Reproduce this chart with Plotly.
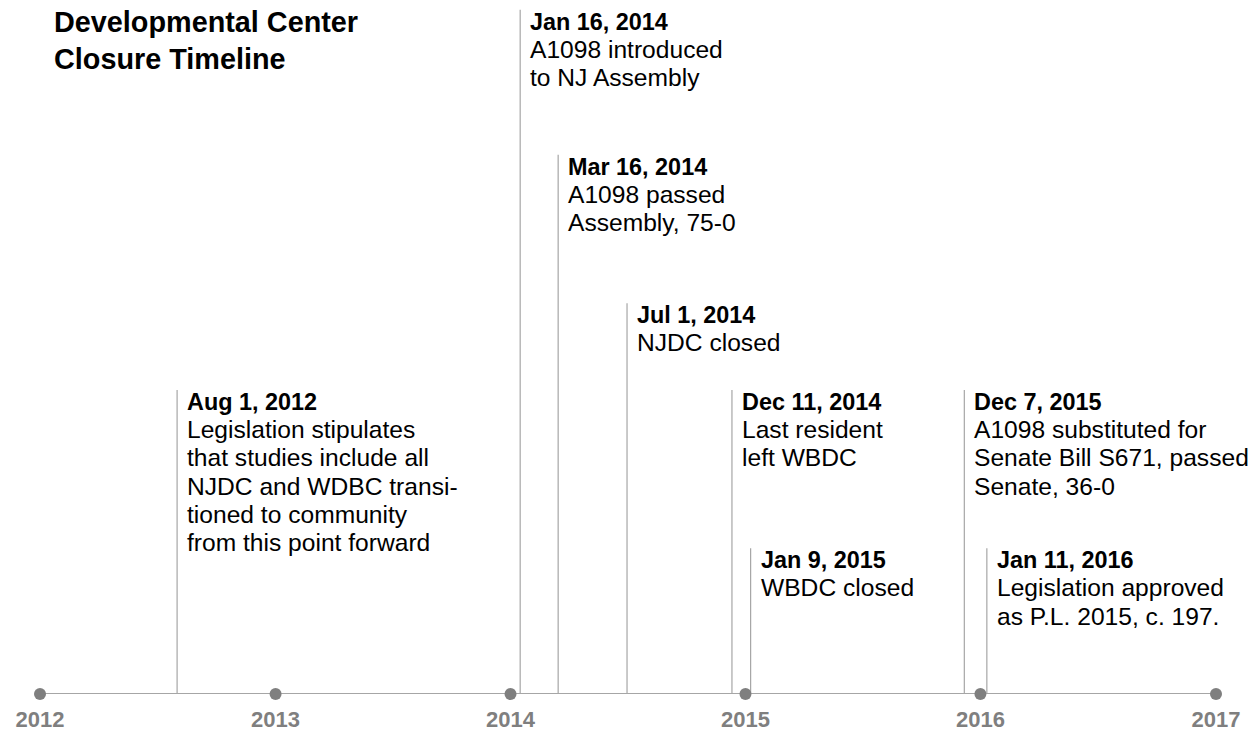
import plotly.graph_objects as go

# ---- data ----
years = ["2012", "2013", "2014", "2015", "2016", "2017"]
event_dates = ["2012-08-01", "2014-01-16", "2014-03-16", "2014-07-01",
               "2014-12-11", "2015-01-09", "2015-12-07", "2016-01-11"]
event_titles = ["Aug 1, 2012", "Jan 16, 2014", "Mar 16, 2014", "Jul 1, 2014",
                "Dec 11, 2014", "Jan 9, 2015", "Dec 7, 2015", "Jan 11, 2016"]
event_texts = [
    ["Legislation stipulates", "that studies include all", "NJDC and WDBC transi-",
     "tioned to community", "from this point forward"],
    ["A1098 introduced", "to NJ Assembly"],
    ["A1098 passed", "Assembly, 75-0"],
    ["NJDC closed"],
    ["Last resident", "left WBDC"],
    ["WBDC closed"],
    ["A1098 substituted for", "Senate Bill S671, passed", "Senate, 36-0"],
    ["Legislation approved", "as P.L. 2015, c. 197."],
]
event_levels = [43.8, 98.6, 77.7, 56.3, 43.8, 21.0, 43.8, 21.0]
title_lines = ["Developmental Center", "Closure Timeline"]

FONT = "Liberation Sans"
GRAY = "#7f7f7f"
LIGHT = "#a6a6a6"
DATE_SIZE = 23.4
TXT_SIZE = 24.6
LINE_PITCH = 28.3
TITLE_SIZE = 28.8
TITLE_PITCH = 37

year_dates = [f"{y}-01-01" for y in years]

fig = go.Figure()

# stems
sx, sy = [], []
for d, h in zip(event_dates, event_levels):
    sx += [d, d, None]
    sy += [0, h, None]
fig.add_trace(go.Scatter(x=sx, y=sy, mode="lines",
                         line=dict(color=LIGHT, width=1.2),
                         hoverinfo="skip", showlegend=False, cliponaxis=False))

# baseline with year markers
fig.add_trace(go.Scatter(x=year_dates, y=[0] * len(years), mode="lines+markers",
                         line=dict(color=LIGHT, width=2),
                         marker=dict(color=GRAY, size=12),
                         hoverinfo="skip", showlegend=False, cliponaxis=False))

annotations = []
for d, h, t, body in zip(event_dates, event_levels, event_titles, event_texts):
    annotations.append(dict(
        x=d, y=h, xref="x", yref="y", xanchor="left", yanchor="top",
        text=f"<b>{t}</b>", showarrow=False, align="left",
        xshift=8, yshift=3.2,
        font=dict(family=FONT, size=DATE_SIZE, color="#000000"),
    ))
    for i, ln in enumerate(body, start=1):
        annotations.append(dict(
            x=d, y=h, xref="x", yref="y", xanchor="left", yanchor="top",
            text=ln, showarrow=False, align="left",
            xshift=8, yshift=4.2 - i * LINE_PITCH,
            font=dict(family=FONT, size=TXT_SIZE, color="#000000"),
        ))

for i, ln in enumerate(title_lines):
    annotations.append(dict(
        x=13 / 1176, y=1, xref="paper", yref="paper", xanchor="left", yanchor="top",
        text=f"<b>{ln}</b>", showarrow=False, align="left",
        xshift=-1, yshift=-3.9 - i * TITLE_PITCH,
        font=dict(family=FONT, size=TITLE_SIZE, color="#000000"),
    ))

fig.update_layout(
    width=1257, height=732,
    margin=dict(l=40, r=41, t=0, b=38),
    plot_bgcolor="white", paper_bgcolor="white",
    xaxis=dict(type="date", range=["2012-01-01", "2017-01-01"],
               showgrid=False, zeroline=False, showline=False,
               tickvals=year_dates, ticktext=years, ticks="",
               ticklabelstandoff=10,
               tickfont=dict(family=FONT, size=22, color=GRAY, weight="bold")),
    yaxis=dict(range=[0, 100], visible=False, showgrid=False, zeroline=False),
    annotations=annotations,
    showlegend=False,
)

fig.write_html("out.html", config={"displayModeBar": False},
               post_script="document.body.style.margin='0px';")
